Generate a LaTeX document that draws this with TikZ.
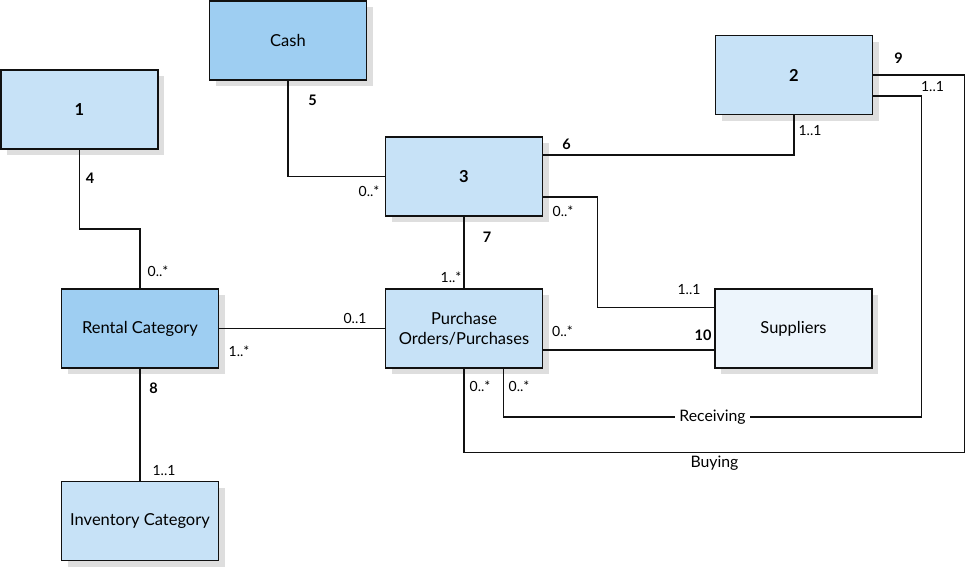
\documentclass[tikz,border=0pt]{standalone}
\usepackage{fontspec}
\setmainfont{Lato}
\usetikzlibrary{shadows}
\definecolor{erdLine}{HTML}{111111}
\definecolor{erdPale}{HTML}{C7E2F7}
\definecolor{erdDeep}{HTML}{9ECEF2}
\definecolor{erdMist}{HTML}{EDF5FC}
\definecolor{erdShade}{HTML}{DEDEDE}
\tikzset{
  erd box/.style={draw=erdLine, fill=erdPale, line width=1.7pt, minimum width=157pt, minimum height=79pt, inner sep=0pt, align=center, font=\fontsize{16.5}{20}\selectfont, general shadow={fill=erdShade, shadow xshift=6pt, shadow yshift=-6pt}},
  erd deep/.style={erd box, fill=erdDeep},
  erd mist/.style={erd box, fill=erdMist},
  erd link/.style={draw=erdLine, line width=1.7pt},
  erd num/.style={font=\fontsize{14.5}{17}\selectfont\bfseries},
  erd mult/.style={font=\fontsize{14}{17}\selectfont},
  erd role/.style={font=\fontsize{15.8}{19}\selectfont},
}

\begin{document}
\begin{tikzpicture}[x=1pt,y=-1pt]
  \useasboundingbox (0,0) rectangle (965,568);
  % entities
  \node[erd deep] (cash) at (288,40.5) {Cash};
  \node[erd box, font=\fontsize{16.5}{20}\selectfont\bfseries] (one) at (79.5,109.5) {1};
  \node[erd box, font=\fontsize{16.5}{20}\selectfont\bfseries] (two) at (794,75) {2};
  \node[erd box, font=\fontsize{16.5}{20}\selectfont\bfseries] (three) at (464,176.5) {3};
  \node[erd deep] (rental) at (140,328.5) {Rental Category};
  \node[erd box] (orders) at (464,328.5) {Purchase\\Orders/Purchases};
  \node[erd mist] (suppliers) at (793.5,328.5) {Suppliers};
  \node[erd box] (inventory) at (140,521) {Inventory Category};
  % relationships
  \draw[erd link] (one.south) -- ++(0,79) -| (rental.north);
  \draw[erd link] (cash.south) |- (three.west);
  \draw[erd link] ([yshift=21.5pt]three.east) -| (two.south);
  \draw[erd link] ([yshift=-20.5pt]three.east) -- ++(54,0) |- ([yshift=21pt]suppliers.west);
  \draw[erd link] (three.south) -- (orders.north);
  \draw[erd link] (rental.east) -- (orders.west);
  \draw[erd link] (rental.south) -- (inventory.north);
  \draw[erd link] ([yshift=-21.5pt]orders.east) -- ([yshift=-21.5pt]suppliers.west);
  % receiving and buying loops to 2
  \draw[erd link] ([xshift=39.5pt]orders.south) -- ++(0,48)
    -- node[erd role, fill=white, inner sep=4pt, pos=0.5] (receiving) {Receiving} ++(418,0)
    |- ([yshift=-21pt]two.east);
  \draw[erd link] (orders.south) -- ++(0,83.5)
    -- node[erd role, below, inner sep=3pt, pos=0.5] (buying) {Buying} ++(501,0)
    |- (two.east);
  % relationship numbers
  \node[erd num] (n4) at (90,178) {4};
  \node[erd num] (n5) at (312.5,100) {5};
  \node[erd num] (n6) at (566.5,144) {6};
  \node[erd num] (n7) at (487,237) {7};
  \node[erd num] (n8) at (153.5,388) {8};
  \node[erd num] (n9) at (898.5,58) {9};
  \node[erd num] (n10) at (703,335) {10};
  % multiplicities
  \node[erd mult] (m1) at (158,271) {0..*};
  \node[erd mult] (m2) at (369,191) {0..*};
  \node[erd mult] (m3) at (810,131) {1..1};
  \node[erd mult] (m4) at (563,211) {0..*};
  \node[erd mult] (m5) at (932.5,87) {1..1};
  \node[erd mult] (m6) at (451,277) {1..*};
  \node[erd mult] (m7) at (355,318) {0..1};
  \node[erd mult] (m8) at (239,351) {1..*};
  \node[erd mult] (m9) at (164,471) {1..1};
  \node[erd mult] (m10) at (689,290) {1..1};
  \node[erd mult] (m11) at (562.5,331) {0..*};
  \node[erd mult] (m12) at (480,386) {0..*};
  \node[erd mult] (m13) at (519,386) {0..*};
\end{tikzpicture}
\end{document}
